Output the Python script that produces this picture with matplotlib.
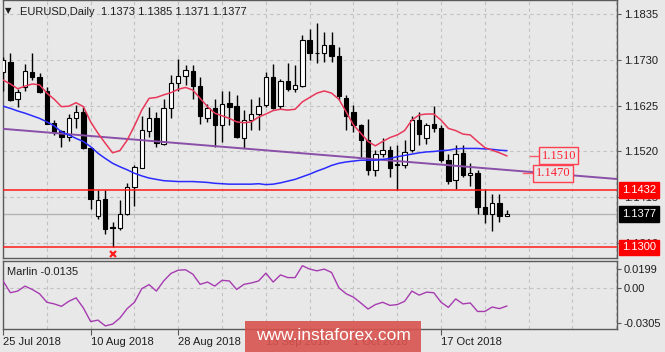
import numpy as np
import matplotlib.pyplot as plt
from matplotlib.patches import Rectangle

plt.rcParams['font.family'] = ['Liberation Sans', 'DejaVu Sans']
plt.rcParams['font.size'] = 8

# EURUSD daily, 25 Jul 2018 .. 30 Oct 2018
opens = [1.1703, 1.1725, 1.1641, 1.1668, 1.1703, 1.1691, 1.1660, 1.1585, 1.1567, 1.1553,
         1.1598, 1.1611, 1.1529, 1.1373, 1.1412, 1.1347, 1.1345, 1.1376, 1.1439, 1.1483,
         1.1568, 1.1596, 1.1538, 1.1621, 1.1677, 1.1693, 1.1705, 1.1670, 1.1598, 1.1620,
         1.1580, 1.1632, 1.1624, 1.1550, 1.1592, 1.1605, 1.1626, 1.1691, 1.1624, 1.1682,
         1.1664, 1.1670, 1.1777, 1.1747, 1.1746, 1.1765, 1.1739, 1.1643, 1.1610, 1.1580,
         1.1547, 1.1477, 1.1514, 1.1523, 1.1490, 1.1488, 1.1523, 1.1592, 1.1550, 1.1582,
         1.1573, 1.1501, 1.1454, 1.1517, 1.1465, 1.1471, 1.1392, 1.1376, 1.1402, 1.1373]
highs = [1.1737, 1.1745, 1.1664, 1.1722, 1.1745, 1.1701, 1.1667, 1.1592, 1.1570, 1.1607,
         1.1626, 1.1622, 1.1530, 1.1432, 1.1431, 1.1358, 1.1408, 1.1447, 1.1488, 1.1601,
         1.1622, 1.1611, 1.1641, 1.1695, 1.1733, 1.1718, 1.1718, 1.1691, 1.1628, 1.1641,
         1.1660, 1.1660, 1.1649, 1.1616, 1.1641, 1.1645, 1.1703, 1.1722, 1.1687, 1.1723,
         1.1718, 1.1787, 1.1802, 1.1815, 1.1794, 1.1794, 1.1759, 1.1649, 1.1626, 1.1582,
         1.1595, 1.1523, 1.1550, 1.1532, 1.1534, 1.1546, 1.1601, 1.1611, 1.1586, 1.1624,
         1.1580, 1.1515, 1.1534, 1.1534, 1.1494, 1.1478, 1.1435, 1.1422, 1.1422, 1.1385]
lows = [1.1660, 1.1637, 1.1622, 1.1660, 1.1683, 1.1655, 1.1584, 1.1557, 1.1530, 1.1545,
        1.1573, 1.1526, 1.1389, 1.1366, 1.1331, 1.1301, 1.1339, 1.1374, 1.1396, 1.1482,
        1.1553, 1.1530, 1.1534, 1.1596, 1.1660, 1.1672, 1.1641, 1.1584, 1.1588, 1.1530,
        1.1542, 1.1580, 1.1550, 1.1527, 1.1569, 1.1569, 1.1622, 1.1618, 1.1618, 1.1660,
        1.1657, 1.1668, 1.1731, 1.1723, 1.1725, 1.1725, 1.1638, 1.1569, 1.1565, 1.1507,
        1.1465, 1.1464, 1.1507, 1.1461, 1.1432, 1.1481, 1.1519, 1.1534, 1.1538, 1.1565,
        1.1496, 1.1446, 1.1435, 1.1461, 1.1440, 1.1377, 1.1356, 1.1337, 1.1358, 1.1371]
closes = [1.1729, 1.1639, 1.1657, 1.1705, 1.1691, 1.1657, 1.1584, 1.1565, 1.1553, 1.1598,
          1.1611, 1.1527, 1.1410, 1.1408, 1.1343, 1.1345, 1.1377, 1.1439, 1.1484, 1.1570,
          1.1596, 1.1540, 1.1621, 1.1677, 1.1693, 1.1706, 1.1670, 1.1601, 1.1621, 1.1580,
          1.1630, 1.1622, 1.1553, 1.1593, 1.1605, 1.1624, 1.1691, 1.1621, 1.1682, 1.1664,
          1.1672, 1.1777, 1.1746, 1.1745, 1.1765, 1.1739, 1.1647, 1.1601, 1.1580, 1.1546,
          1.1477, 1.1514, 1.1523, 1.1481, 1.1492, 1.1519, 1.1592, 1.1561, 1.1580, 1.1575,
          1.1501, 1.1452, 1.1514, 1.1465, 1.1470, 1.1392, 1.1376, 1.1402, 1.1373, 1.1377]

# red (fast) and blue (slow) moving averages
ma_fast = [1.1684, 1.1675, 1.1664, 1.1670, 1.1675, 1.1673, 1.1654, 1.1640, 1.1623, 1.1624,
           1.1632, 1.1623, 1.1588, 1.1562, 1.1539, 1.1517, 1.1522, 1.1546, 1.1579, 1.1615,
           1.1642, 1.1644, 1.1650, 1.1655, 1.1663, 1.1667, 1.1661, 1.1642, 1.1623, 1.1608,
           1.1602, 1.1596, 1.1588, 1.1586, 1.1588, 1.1599, 1.1606, 1.1614, 1.1617, 1.1615,
           1.1617, 1.1634, 1.1644, 1.1654, 1.1659, 1.1654, 1.1640, 1.1611, 1.1581, 1.1562,
           1.1543, 1.1533, 1.1543, 1.1552, 1.1558, 1.1568, 1.1592, 1.1604, 1.1606, 1.1606,
           1.1592, 1.1573, 1.1568, 1.1560, 1.1558, 1.1543, 1.1529, 1.1523, 1.1517, 1.1510]
ma_slow = [1.1624, 1.1619, 1.1613, 1.1608, 1.1602, 1.1596, 1.1588, 1.1579, 1.1565, 1.1558,
           1.1550, 1.1543, 1.1531, 1.1516, 1.1504, 1.1493, 1.1485, 1.1478, 1.1470, 1.1464,
           1.1459, 1.1456, 1.1453, 1.1452, 1.1451, 1.1451, 1.1451, 1.1450, 1.1449, 1.1447,
           1.1446, 1.1445, 1.1445, 1.1445, 1.1445, 1.1446, 1.1444, 1.1445, 1.1448, 1.1452,
           1.1456, 1.1462, 1.1468, 1.1475, 1.1481, 1.1488, 1.1493, 1.1496, 1.1498, 1.1500,
           1.1500, 1.1500, 1.1502, 1.1504, 1.1508, 1.1511, 1.1514, 1.1517, 1.1519, 1.1520,
           1.1522, 1.1523, 1.1526, 1.1527, 1.1527, 1.1527, 1.1526, 1.1525, 1.1523, 1.1522]

marlin = [0.0051, -0.0036, -0.0024, 0.0013, -0.0012, -0.0044, -0.0107, -0.0119, -0.0137, -0.0100,
          -0.0074, -0.0149, -0.0250, -0.0239, -0.0282, -0.0269, -0.0224, -0.0154, -0.0107, -0.0006,
          0.0024, -0.0024, 0.0051, 0.0107, 0.0131, 0.0134, 0.0101, 0.0026, 0.0043, 0.0013,
          0.0056, 0.0051, -0.0012, 0.0026, 0.0036, 0.0051, 0.0109, 0.0043, 0.0096, 0.0076,
          0.0076, 0.0164, 0.0139, 0.0126, 0.0139, 0.0114, 0.0001, -0.0044, -0.0069, -0.0112,
          -0.0157, -0.0124, -0.0107, -0.0130, -0.0124, -0.0100, -0.0024, -0.0054, -0.0032, -0.0036,
          -0.0107, -0.0145, -0.0082, -0.0119, -0.0112, -0.0175, -0.0175, -0.0142, -0.0154, -0.0135]

trend_start = (0, 1.1572)
trend_end = (84, 1.1457)
support_levels = [1.1432, 1.1300]
bid = 1.1377
fast_label = 1.1510
trend_label = 1.1470
low_mark_bar = 15
low_mark_price = 1.1285

price_ticks = [1.1835, 1.1730, 1.1625, 1.1520, 1.1415, 1.1310]
date_ticks = [0, 12, 24, 36, 48, 60]
date_labels = ["25 Jul 2018", "10 Aug 2018", "28 Aug 2018", "13 Sep 2018", "1 Oct 2018", "17 Oct 2018"]
title = "EURUSD,Daily  1.1373 1.1385 1.1371 1.1377"

opens = np.array(opens); highs = np.array(highs)
lows = np.array(lows); closes = np.array(closes)
n = len(closes)
x = np.arange(n)

BG = '#e8e8e8'
FRAME = '#5a5a5a'
fig = plt.figure(figsize=(6.65, 3.52), dpi=100, facecolor=BG)
ax = fig.add_axes([2.7 / 665, 94 / 352, 614.3 / 665, 258 / 352], facecolor=BG)
ax2 = fig.add_axes([2.7 / 665, 23 / 352, 614.3 / 665, 68 / 352], facecolor=BG)

grid_bars = list(range(0, 85, 6))
for a in (ax, ax2):
    a.set_xlim(-0.05, 84.1)
    for s in a.spines.values():
        s.set_color(FRAME)
        s.set_linewidth(1)
    a.yaxis.tick_right()
    a.tick_params(axis='y', direction='out', length=3, width=0.8, color=FRAME,
                  labelsize=8, labelcolor='#1e1e1e', pad=2)

# main window
ax.set_ylim(1.12755, 1.18678)
ax.set_yticks(price_ticks)
ax.set_yticklabels(['%.4f' % p for p in price_ticks])
ax.set_xticks(grid_bars)
ax.tick_params(axis='x', length=0, labelbottom=False)
ax.grid(True, color='#c2c2c2', ls=(0, (3, 3)), lw=0.8)
ax.set_axisbelow(True)

up = closes >= opens
lo = np.minimum(opens, closes)
h = np.maximum(np.abs(closes - opens), 0.00001)
ax.vlines(x, lows, highs, color='black', lw=1, zorder=3)
ax.bar(x[up], h[up], bottom=lo[up], width=0.6, color='white', edgecolor='black', lw=0.8, zorder=4)
ax.bar(x[~up], h[~up], bottom=lo[~up], width=0.6, color='black', edgecolor='black', lw=0.8, zorder=4)

ax.axhline(bid, color='#b4b4b4', lw=1, zorder=2)
for lvl in support_levels:
    ax.axhline(lvl, color='#ff1a1a', lw=1.1, zorder=5)
ax.axline(trend_start, trend_end, color='#8a4fa8', lw=1.4, zorder=5)
ax.plot(x, ma_slow, color='#2b2bff', lw=1.1, zorder=6)
ax.plot(x, ma_fast, color='#e8385a', lw=1.1, zorder=6)
ax.plot(low_mark_bar, low_mark_price, marker='x', color='#ff2020', ms=4.5, mew=1.6,
        zorder=6, clip_on=False)

# text labels next to the line ends
last = n - 1
ax.plot([last + 3.2, last + 4.4], [fast_label] * 2, color='#ff5a6a', lw=1, zorder=6)
ax.text(last + 4.75, fast_label, '%.4f' % fast_label, color='#ff2030', fontsize=9,
        family='Liberation Serif', va='center', ha='left', zorder=7,
        bbox=dict(boxstyle='square,pad=0.2', fc=BG, ec='#ff4050', lw=1))
ax.plot([last + 2.2, last + 3.6], [trend_label] * 2, color='#ff5a6a', lw=1, zorder=6)
ax.text(last + 3.95, trend_label, '%.4f' % trend_label, color='#ff2030', fontsize=9,
        family='Liberation Serif', va='center', ha='left', zorder=7,
        bbox=dict(boxstyle='square,pad=0.2', fc=BG, ec='#ff4050', lw=1))

# price boxes on the right scale
ytr = ax.get_yaxis_transform()
for lvl in support_levels:
    ax.text(1.0085, lvl, '%.4f' % lvl, transform=ytr, color='white', fontsize=8,
            va='center', ha='left', zorder=8, clip_on=False,
            bbox=dict(boxstyle='square,pad=0.25', fc='#ff0000', ec='#ff0000'))
ax.text(1.0085, bid, '%.4f' % bid, transform=ytr, color='white', fontsize=8,
        va='center', ha='left', zorder=8, clip_on=False,
        bbox=dict(boxstyle='square,pad=0.25', fc='black', ec='black'))

# indicator window
ax2.set_ylim(-0.0305, 0.0199)
ax2.set_yticks([0.0139, 0.0, -0.0262])
ax2.set_yticklabels(['0.0199', '0.00', '-0.0305'])
ax2.axhline(0, color='#c2c2c2', ls=(0, (3, 3)), lw=0.8, zorder=1)
ax2.set_xticks(date_ticks)
ax2.set_xticklabels(date_labels)
ax2.set_xticks([b for b in grid_bars if b not in date_ticks], minor=True)
for lab in ax2.get_xticklabels():
    lab.set_horizontalalignment('left')
ax2.tick_params(axis='x', which='major', direction='out', length=4, width=0.8, color=FRAME,
                labelsize=8, labelcolor='#1e1e1e', pad=1.5)
ax2.tick_params(axis='x', which='minor', length=0)
ax2.grid(True, axis='x', which='both', color='#c2c2c2', ls=(0, (3, 3)), lw=0.8)
ax2.set_axisbelow(True)
ax2.plot(x, marlin, color='#a63cb0', lw=1, zorder=3)

fig.text(7 / 665, 1 - 272 / 352, 'Marlin %.4f' % marlin[-1], fontsize=8, color='#1e1e1e', va='center')
fig.text(5 / 665, 1 - 11 / 352, '\u25bc', fontsize=6, color='#1e1e1e', va='center',
         family='DejaVu Sans')
fig.text(20 / 665, 1 - 12 / 352, title, fontsize=8, color='#1e1e1e', va='center')

# watermark
fig.add_artist(Rectangle((245 / 665, 0), 176 / 665, 31 / 352, transform=fig.transFigure,
                         fc='#d9534f', ec='none', alpha=0.9))
fig.text(333 / 665, 16 / 352, 'www.instaforex.com', color='white', fontsize=12.5,
         ha='center', va='center')

fig.savefig('out.png', dpi=100, facecolor=BG)
